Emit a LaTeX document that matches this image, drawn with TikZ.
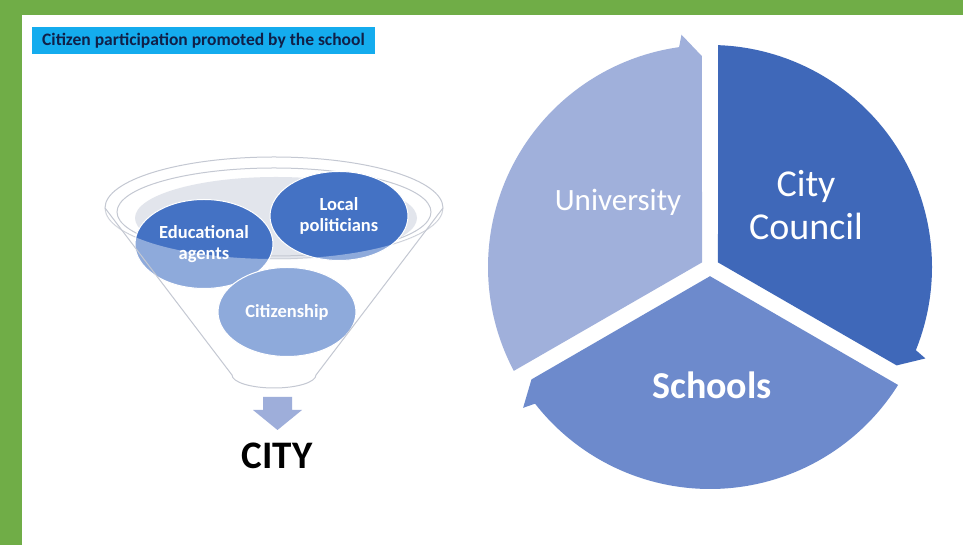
\documentclass[tikz,border=0pt]{standalone}
\usepackage{fontspec}
\setmainfont{Carlito}
\usepackage{tikz}
\usetikzlibrary{positioning,shapes.geometric}
\definecolor{framegreen}{RGB}{112,173,71}
\definecolor{titlecyan}{RGB}{20,172,238}
\definecolor{titlenavy}{RGB}{16,32,72}
\definecolor{funnelline}{RGB}{196,200,210}
\definecolor{openinggray}{RGB}{226,229,236}
\definecolor{bubbleblue}{RGB}{68,114,196}
\definecolor{arrowblue}{RGB}{158,174,218}
\definecolor{univblue}{RGB}{160,176,219}
\definecolor{councilblue}{RGB}{63,104,185}
\definecolor{schoolblue}{RGB}{109,138,204}
\newcommand{\fsz}[1]{\fontsize{#1}{1.12\dimexpr#1pt\relax}\selectfont}

\begin{document}
\begin{tikzpicture}[x=1pt,y=1pt,
	titlebox/.style={fill=titlecyan,text=titlenavy,minimum width=343pt,minimum height=27pt,inner sep=0pt,font=\bfseries\fsz{17.5}},
	bubble/.style={ellipse,fill=bubbleblue,draw=white,line width=1pt,minimum width=138pt,minimum height=89pt,inner sep=0pt,text=white,align=center,font=\bfseries\fsz{18.5}},
	funnel/.style={draw=funnelline,line width=1pt},
	pielabel/.style={text=white,align=center,inner sep=0pt}]
	\useasboundingbox (0,0) rectangle (963,545);
	\fill[white] (0,0) rectangle (963,545);
	\fill[framegreen] (0,0) rectangle (22,545);
	\fill[framegreen] (0,530) rectangle (963,545);
	
	\node[titlebox] (title) at (203.5,504.5) {Citizen participation promoted by the school};
	
	\fill[openinggray] (276,327) ellipse[x radius=141pt,y radius=41pt];
	\draw[funnel] (274,337) ellipse[x radius=169pt,y radius=51pt];
	\draw[funnel] (274,333) ellipse[x radius=157pt,y radius=44pt];
	
	\node[bubble] (educ) at (204,301) {Educational\\agents};
	\node[bubble] (politic) at (339,329) {Local\\politicians};
	\node[bubble] (citizen) at (287,233) {Citizenship};
	
	\fill[white,fill opacity=0.4] (60,337) -- (105,337) arc[start angle=180,end angle=360,x radius=169pt,y radius=51pt]
		-- (480,337) -- (480,155) -- (60,155) -- cycle;
	\draw[funnel] (105,337) -- (232,170) arc[start angle=180,end angle=360,x radius=42pt,y radius=13pt] -- (443,337);
	
	\fill[arrowblue] (263,148) -- (292,148) -- (292,135) -- (302,135) -- (277.5,115) -- (253,135) -- (263,135) -- cycle;
	\node[font=\bfseries\fsz{39}] (city) at (277,89) {CITY};
	
	\begin{scope}[shift={(710,278)}]
		\foreach \a/\b/\col in {210/90/univblue,90/-30/councilblue,-30/-150/schoolblue}{
			\fill[\col] ({(\a+\b)/2}:9.2pt) -- ({\a-2.1}:222pt)
				arc[start angle={\a-2.1},end angle={\b+8},radius=222pt]
				-- ({\b+7}:234pt) -- ({\b+2.2}:211pt) -- cycle;
		}
	\end{scope}
	\node[pielabel,font=\fsz{31}] (univ) at (618,343) {University};
	\node[pielabel,font=\fsz{38}] (council) at (806,340) {City\\Council};
	\node[pielabel,font=\bfseries\fsz{38}] (schools) at (712,160) {Schools};
\end{tikzpicture}
\end{document}
